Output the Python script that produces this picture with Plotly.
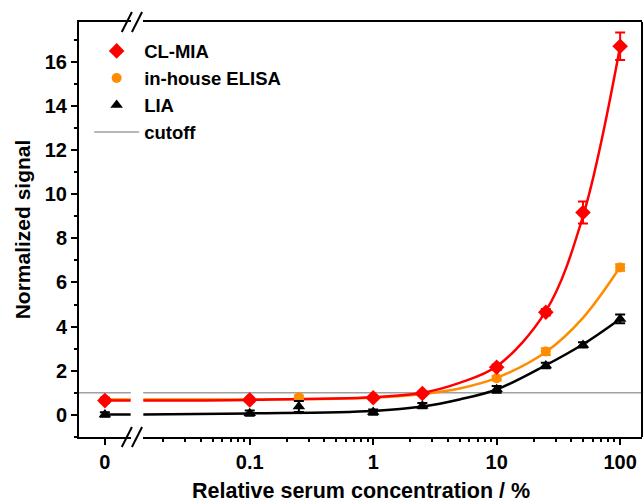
import plotly.graph_objects as go

# ---------------- data ----------------
conc_zero = [0]
conc_red = [0.1, 1, 2.5, 10, 25, 50, 100]
conc_orange = [0.1, 0.25, 1, 2.5, 10, 25, 100]
conc_black = [0.1, 0.25, 1, 2.5, 10, 25, 50, 100]

clmia_zero = [0.65]
clmia = [0.68, 0.78, 0.97, 2.16, 4.65, 9.17, 16.7]
clmia_err = [0.08, 0.08, 0.08, 0.12, 0.15, 0.5, 0.62]

elisa_zero = [0.7]
elisa = [0.72, 0.8, 0.8, 0.98, 1.66, 2.87, 6.68]
elisa_err = [0.05, 0.08, 0.05, 0.06, 0.1, 0.15, 0.15]

lia_zero = [0.02]
lia = [0.08, 0.38, 0.13, 0.42, 1.16, 2.24, 3.17, 4.35]
lia_err = [0.12, 0.25, 0.12, 0.12, 0.15, 0.12, 0.12, 0.2]

# fitted curves
fit_x = [0.1, 1, 2.5, 5, 10, 25, 50, 100]
clmia_fit = [0.68, 0.8, 1.0, 1.45, 2.2, 4.7, 9.0, 16.7]
elisa_fit = [0.7, 0.78, 0.95, 1.2, 1.68, 2.85, 4.4, 6.7]
lia_fit = [0.07, 0.18, 0.38, 0.7, 1.15, 2.25, 3.2, 4.35]

cutoff = 1.0

x_title = "Relative serum concentration / %"
y_title = "Normalized signal"
zero_tick = ["0"]

# ---------------- styling ----------------
RED = "#FF0000"
ORANGE = "#FF8C00"
BLACK = "#000000"
GRAY = "#A0A0A0"
FONT = "Liberation Sans, Arial, sans-serif"

LEFT_RANGE = [-1, 1]
LOG_RANGE = [-1.863, 2.177]
Y_RANGE = [-1.0, 17.8]

fig = go.Figure()

series = [
    ("CL-MIA", RED, "diamond", 12, conc_red, clmia, clmia_err, clmia_zero, clmia_fit, 1),
    ("in-house ELISA", ORANGE, "circle", 10, conc_orange, elisa, elisa_err, elisa_zero, elisa_fit, 2),
    ("LIA", BLACK, "triangle-up", 11, conc_black, lia, lia_err, lia_zero, lia_fit, 3),
]

# fitted lines first (orange, red, black)
for idx in [1, 0, 2]:
    name, col, sym, size, xs, ys, es, y0, yf, rank = series[idx]
    fig.add_trace(go.Scatter(x=[0, LEFT_RANGE[1]], y=[y0[0], y0[0]], xaxis="x", yaxis="y",
                             mode="lines", line=dict(color=col, width=2.5),
                             showlegend=False, hoverinfo="skip"))
    fig.add_trace(go.Scatter(x=[10 ** LOG_RANGE[0]] + fit_x, y=[y0[0]] + yf, xaxis="x2", yaxis="y",
                             mode="lines", line=dict(color=col, width=2.5, shape="spline", smoothing=1.0),
                             showlegend=False, hoverinfo="skip"))

# markers (orange below red)
for idx in [1, 0, 2]:
    name, col, sym, size, xs, ys, es, y0, yf, rank = series[idx]
    fig.add_trace(go.Scatter(x=conc_zero, y=y0, xaxis="x", yaxis="y", mode="markers",
                             marker=dict(symbol=sym, size=size, color=col),
                             error_y=dict(type="constant", value=0.1, color=col, thickness=2, width=5),
                             showlegend=False))
    fig.add_trace(go.Scatter(x=xs, y=ys, xaxis="x2", yaxis="y", mode="markers", name=name,
                             marker=dict(symbol=sym, size=size, color=col),
                             error_y=dict(type="data", array=es, color=col, thickness=2, width=5),
                             legendrank=rank))

fig.add_trace(go.Scatter(x=[None], y=[None], xaxis="x2", yaxis="y", mode="lines", name="cutoff",
                         line=dict(color=GRAY, width=1.5), legendrank=4))

# cutoff line on both segments
for ref in ["x domain", "x2 domain"]:
    fig.add_shape(type="line", xref=ref, yref="y", x0=0, x1=1, y0=cutoff, y1=cutoff,
                  line=dict(color=GRAY, width=1.5), layer="below")

# right border
fig.add_shape(type="line", xref="paper", yref="paper", x0=1, x1=1, y0=0, y1=1,
              line=dict(color=BLACK, width=2))

# break marks
BREAK_X = 0.095
for yb in [0, 1]:
    for dx in [-0.010, 0.008]:
        fig.add_shape(type="line", xref="paper", yref="paper",
                      x0=BREAK_X + dx - 0.009, x1=BREAK_X + dx + 0.009,
                      y0=yb - 0.024, y1=yb + 0.024,
                      line=dict(color=BLACK, width=2))

axis_common = dict(showline=True, linecolor=BLACK, linewidth=2, mirror=True,
                   ticks="outside", ticklen=6, tickwidth=2, tickcolor=BLACK,
                   showgrid=False, zeroline=False, automargin=False,
                   tickfont=dict(family=FONT, size=20, color=BLACK, weight="bold"))

fig.update_layout(
    width=643, height=503,
    margin=dict(l=79, r=1, t=22, b=66),
    plot_bgcolor="white", paper_bgcolor="white",
    font=dict(family=FONT, color=BLACK),
    xaxis=dict(domain=[0, 0.092], range=LEFT_RANGE, tickvals=[0], ticktext=zero_tick,
               anchor="y", **axis_common),
    xaxis2=dict(domain=[0.114, 1], type="log", range=LOG_RANGE, dtick=1,
                minor=dict(ticks="outside", ticklen=3, tickwidth=1.5, tickcolor=BLACK, dtick="D1", showgrid=False),
                anchor="y", **axis_common),
    yaxis=dict(range=Y_RANGE, dtick=2, tick0=0, anchor="x",
               minor=dict(ticks="outside", ticklen=3, tickwidth=1.5, tickcolor=BLACK, dtick=1, showgrid=False),
               title=dict(text=y_title, standoff=8, font=dict(family=FONT, size=21, color=BLACK, weight="bold")),
               **{k: v for k, v in axis_common.items() if k != "mirror"}),
    showlegend=True,
    legend=dict(x=0.018, y=0.975, xanchor="left", yanchor="top", bgcolor="rgba(0,0,0,0)",
                font=dict(family=FONT, size=18.5, color=BLACK, weight="bold"), itemwidth=45,
                tracegroupgap=0),
    annotations=[dict(text=x_title, xref="paper", yref="paper", x=0.50, y=0, yshift=-54,
                      xanchor="center", yanchor="middle", showarrow=False,
                      font=dict(family=FONT, size=21.5, color=BLACK, weight="bold"))],
)

fig.write_html("out.html", config={"displayModeBar": False},
               post_script="document.body.style.margin='0';")
